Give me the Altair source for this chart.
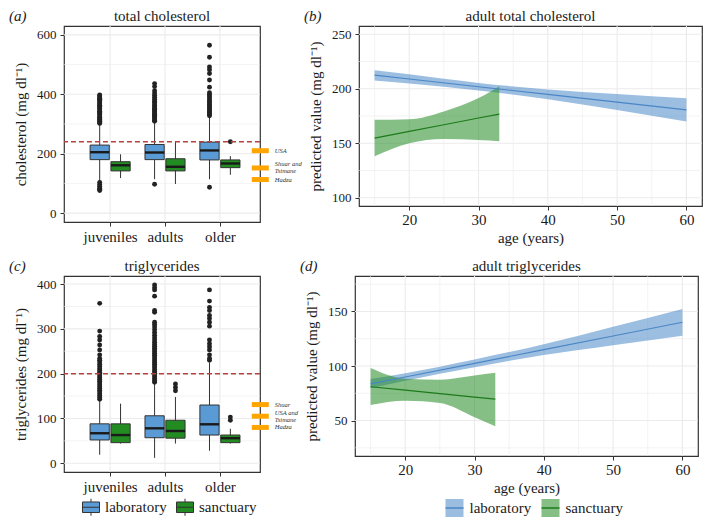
import json
import altair as alt
import pandas as pd

SERIF = "Liberation Serif"

groups = ["juveniles", "adults", "older"]
sites = ["laboratory", "sanctuary"]

# ---------- (a) total cholesterol: box summaries (lo whisker, q1, median, q3, hi whisker)
chol_lab_lo = [109, 114, 114]
chol_lab_q1 = [180, 180, 179]
chol_lab_med = [205, 204, 211]
chol_lab_q3 = [229, 231, 239]
chol_lab_hi = [298, 307, 326]
chol_san_lo = [118, 98, 129]
chol_san_q1 = [142, 142, 153]
chol_san_med = [161, 156, 167]
chol_san_q3 = [173, 183, 179]
chol_san_hi = [198, 240, 192]

chol_out_lab_juv = [76, 80, 84, 90, 96, 103, 302, 305, 309, 312, 316, 320, 323, 327, 331, 335, 339, 343,
                    347, 351, 355, 359, 363, 367, 371, 375, 379, 383, 387, 391, 395, 398]
chol_out_lab_adu = [97, 309, 313, 317, 321, 325, 329, 333, 337, 341, 345, 349, 353, 358, 362, 367, 372,
                    377, 383, 390, 397, 404, 412, 426, 436]
chol_out_lab_old = [87, 328, 332, 337, 341, 346, 351, 356, 361, 366, 371, 377, 382, 388, 394, 399, 405,
                    424, 448, 470, 483, 492, 525, 565]
chol_out_san_old = [240]

chol_limit = 240
chol_pop_labels = ["USA", "Shuar and\nTsimane", "Hadza"]
chol_pop_values = [210, 152, 113]

# ---------- (c) triglycerides
trig_lab_lo = [19, 12, 28]
trig_lab_q1 = [52, 57, 63]
trig_lab_med = [67, 78, 87]
trig_lab_q3 = [88, 106, 130]
trig_lab_hi = [140, 179, 225]
trig_san_lo = [44, 44, 44]
trig_san_q1 = [46, 56, 46]
trig_san_med = [63, 72, 56]
trig_san_q3 = [88, 96, 63]
trig_san_hi = [133, 148, 77]

trig_out_lab_juv = [143, 147, 151, 155, 159, 163, 167, 171, 175, 179, 183, 187, 191, 195, 199, 203, 207,
                    211, 216, 221, 226, 230, 234, 242, 253, 264, 275, 283, 295, 357]
trig_out_lab_adu = [181, 185, 189, 193, 197, 201, 205, 209, 213, 217, 221, 225, 229, 233, 237, 241, 245,
                    249, 253, 257, 261, 265, 270, 275, 280, 286, 292, 298, 304, 310, 315, 337, 341, 373,
                    387, 392, 398]
trig_out_lab_old = [230, 234, 242, 253, 260, 267, 275, 306, 315, 323, 330, 341, 348, 362, 387]
trig_out_san_adu = [162, 169, 177]
trig_out_san_old = [96, 103]

trig_limit = 200
trig_pop_labels = ["Shuar", "USA and\nTsimane", "Hadza"]
trig_pop_values = [131, 105, 80]

# ---------- (b) adult total cholesterol predictions
chol_lab_age = [15, 20, 30, 40, 50, 60]
chol_lab_fit = [212.4, 208.9, 201.8, 194.8, 187.7, 180.7]
chol_lab_low = [207.6, 204.7, 198.4, 190.4, 180.4, 170.0]
chol_lab_upp = [217.0, 213.2, 205.3, 199.4, 195.2, 191.2]
chol_san_age = [15, 20, 25, 30, 33]
chol_san_fit = [154.8, 160.9, 167.0, 173.2, 176.8]
chol_san_low = [138.0, 150.0, 154.0, 153.0, 151.9]
chol_san_upp = [171.5, 172.0, 179.2, 191.4, 202.1]

# ---------- (d) adult triglyceride predictions
trig_lab_age = [15, 20, 30, 40, 50, 60]
trig_lab_fit = [83.6, 89.9, 102.4, 115.0, 127.5, 140.1]
trig_lab_low = [79.6, 86.4, 98.9, 110.0, 119.0, 127.8]
trig_lab_upp = [88.0, 93.4, 106.0, 120.0, 136.0, 152.3]
trig_san_age = [15, 20, 25, 30, 33]
trig_san_fit = [81.0, 77.8, 74.7, 71.5, 69.6]
trig_san_low = [64.2, 68.1, 66.0, 53.0, 44.8]
trig_san_upp = [98.2, 88.4, 87.5, 91.3, 93.7]

BOX_FILL = ["#5B9BD5", "#228B22"]
BAND_FILL = ["#4A89C8", "#228B22"]
LINE_COL = ["#4A86C5", "#1C7A1C"]
GRID = "#EBEBEB"
INK = "#1a1a1a"

W_BOX, H_BOX = 196, 196
W_LINE, H_LINE = 343, 180
DODGE, HALF = 0.19, 0.175
X_BOX_DOM = [0.16, 3.73]


def box_tables(stats, outliers):
    rows = []
    for j, s in enumerate(sites):
        lo, q1, med, q3, hi = stats[s]
        for i, g in enumerate(groups):
            xc = i + 1 + (2 * j - 1) * DODGE
            rows.append(dict(group=g, site=s, xc=xc, xl=xc - HALF, xr=xc + HALF,
                             lo=lo[i], q1=q1[i], med=med[i], q3=q3[i], hi=hi[i]))
    orow = []
    for (g, s), vals in outliers:
        xc = groups.index(g) + 1 + (2 * sites.index(s) - 1) * DODGE
        for v in vals:
            orow.append(dict(xc=xc, v=v))
    return pd.DataFrame(rows), pd.DataFrame(orow)


def axis_common(**kw):
    base = dict(grid=False, domain=False, ticks=True, tickSize=4, tickColor="#333333",
                labelColor=INK, labelFont=SERIF, titleFont=SERIF, titleFontWeight="normal",
                titleColor=INK, titleFontSize=15)
    base.update(kw)
    return alt.Axis(**base)


def headings(tag, title, width):
    lab = alt.Chart(pd.DataFrame({"t": [tag]})).mark_text(
        font=SERIF, fontSize=15, fontStyle="italic", align="left", baseline="alphabetic", color=INK
    ).encode(x=alt.value(-55), y=alt.value(-5), text="t:N")
    ttl = alt.Chart(pd.DataFrame({"t": [title]})).mark_text(
        font=SERIF, fontSize=15, align="center", baseline="alphabetic", color=INK
    ).encode(x=alt.value(width / 2), y=alt.value(-5), text="t:N")
    return [lab, ttl]


def box_panel(tag, title, ytitle, box, out, ydom, ymaj, ymin, limit, pop_vals, pop_labels, show_legend):
    xs = alt.Scale(domain=X_BOX_DOM, nice=False, zero=False)
    ys = alt.Scale(domain=ydom, nice=False, zero=False)
    xax = axis_common(values=[1, 2, 3], title=None, labelFontSize=15, labelPadding=3,
                      labelExpr=json.dumps([""] + groups) + "[datum.value]")
    yax = axis_common(values=ymaj, title=ytitle, labelFontSize=13, labelPadding=4, titlePadding=8)

    gmaj = alt.Chart(pd.DataFrame({"v": ymaj})).mark_rule(color=GRID, strokeWidth=1.1).encode(
        y=alt.Y("v:Q", scale=ys, axis=yax))
    gmin = alt.Chart(pd.DataFrame({"v": ymin})).mark_rule(color=GRID, strokeWidth=0.6).encode(
        y=alt.Y("v:Q", scale=ys, axis=yax))
    gver = alt.Chart(pd.DataFrame({"g": [1, 2, 3]})).mark_rule(color=GRID, strokeWidth=1.1).encode(
        x=alt.X("g:Q", scale=xs, axis=xax))
    whisk = alt.Chart(box).mark_rule(color="#333333", strokeWidth=1).encode(
        x=alt.X("xc:Q", scale=xs, axis=xax), y=alt.Y("lo:Q", scale=ys, axis=yax), y2="hi:Q")
    if show_legend:
        leg = alt.Legend(orient="none", legendX=18, legendY=H_BOX + 26, direction="horizontal",
                         columns=2, title=None, labelFont=SERIF, labelFontSize=15, labelColor=INK,
                         symbolType="M-1,-0.62H1V0.62H-1Z M-1,0H1 M0,-0.62V-1 M0,0.62V1",
                         symbolSize=289, symbolStrokeColor="#333333", symbolStrokeWidth=1,
                         labelOffset=5, columnPadding=7)
    else:
        leg = None
    boxes = alt.Chart(box).mark_bar(stroke="#333333", strokeWidth=1, opacity=1).encode(
        x=alt.X("xl:Q", scale=xs, axis=xax), x2="xr:Q",
        y=alt.Y("q1:Q", scale=ys, axis=yax), y2="q3:Q",
        fill=alt.Fill("site:N", scale=alt.Scale(domain=sites, range=BOX_FILL), legend=leg))
    med = alt.Chart(box).mark_rule(color=INK, strokeWidth=2.4).encode(
        x=alt.X("xl:Q", scale=xs, axis=xax), x2="xr:Q", y=alt.Y("med:Q", scale=ys, axis=yax))
    pts = alt.Chart(out).mark_circle(size=24, color="#222222", opacity=1).encode(
        x=alt.X("xc:Q", scale=xs, axis=xax), y=alt.Y("v:Q", scale=ys, axis=yax))
    lim = alt.Chart(pd.DataFrame({"v": [limit]})).mark_rule(
        color="#B5423F", strokeWidth=1.5, strokeDash=[5, 3]).encode(y=alt.Y("v:Q", scale=ys, axis=yax))
    pop = pd.DataFrame({"v": pop_vals, "label": pop_labels})
    pop["lines"] = [len(s.split("\n")) for s in pop_labels]
    pbar = alt.Chart(pop).mark_rule(color="#FFA500", strokeWidth=5).encode(
        x=alt.XDatum(3.58, scale=xs, axis=xax), x2=alt.X2Datum(3.89),
        y=alt.Y("v:Q", scale=ys, axis=yax))
    txt_kw = dict(font=SERIF, fontSize=6.5, fontStyle="italic", align="left", baseline="middle",
                  lineBreak="\n", lineHeight=7, color="#333333")
    ptxt1 = alt.Chart(pop).transform_filter("datum.lines == 1").mark_text(**txt_kw).encode(
        x=alt.XDatum(4.0, scale=xs, axis=xax), y=alt.Y("v:Q", scale=ys, axis=yax), text="label:N")
    ptxt2 = alt.Chart(pop).transform_filter("datum.lines > 1").mark_text(dy=-3.5, **txt_kw).encode(
        x=alt.XDatum(4.0, scale=xs, axis=xax), y=alt.Y("v:Q", scale=ys, axis=yax), text="label:N")
    return alt.layer(gmaj, gmin, gver, whisk, boxes, med, pts, lim, pbar, ptxt1, ptxt2,
                     *headings(tag, title, W_BOX)).properties(width=W_BOX, height=H_BOX)


def line_panel(tag, title, ydom, ymaj, ymin, lab, san, show_legend):
    xs = alt.Scale(domain=[12.75, 62.25], nice=False, zero=False)
    ys = alt.Scale(domain=ydom, nice=False, zero=False)
    xax = axis_common(values=[20, 30, 40, 50, 60], title="age (years)", labelFontSize=15,
                      labelPadding=2, titlePadding=3)
    yax = axis_common(values=ymaj, title="predicted value (mg dl\u207b\u00b9)", labelFontSize=13,
                      labelPadding=4, titlePadding=8)
    rows = []
    for s, d in zip(sites, [lab, san]):
        for a, f, lo, hi in zip(*d):
            rows.append(dict(site=s, grp=s, age=a, fit=f, lo=lo, hi=hi))
    df = pd.DataFrame(rows)
    xmaj = [20, 30, 40, 50, 60]
    xmin = [15, 25, 35, 45, 55]
    g1 = alt.Chart(pd.DataFrame({"v": ymaj})).mark_rule(color=GRID, strokeWidth=1.1).encode(
        y=alt.Y("v:Q", scale=ys, axis=yax))
    g2 = alt.Chart(pd.DataFrame({"v": ymin})).mark_rule(color=GRID, strokeWidth=0.6).encode(
        y=alt.Y("v:Q", scale=ys, axis=yax))
    g3 = alt.Chart(pd.DataFrame({"v": xmaj})).mark_rule(color=GRID, strokeWidth=1.1).encode(
        x=alt.X("v:Q", scale=xs, axis=xax))
    g4 = alt.Chart(pd.DataFrame({"v": xmin})).mark_rule(color=GRID, strokeWidth=0.6).encode(
        x=alt.X("v:Q", scale=xs, axis=xax))
    lx = W_LINE / 2 - 82
    ly = H_LINE + 42
    if show_legend:
        fleg = alt.Legend(orient="none", legendX=lx, legendY=ly, direction="horizontal", columns=2,
                          title=None, labelFont=SERIF, labelFontSize=15, labelColor=INK,
                          symbolType="square", symbolSize=324, symbolStrokeWidth=1.5,
                          symbolStrokeColor="transparent", symbolOpacity=0.55,
                          labelOffset=5, columnPadding=7)
        sleg = alt.Legend(orient="none", legendX=lx, legendY=ly, direction="horizontal", columns=2,
                          title=None, labelFont=SERIF, labelFontSize=15, labelOpacity=0,
                          symbolType="stroke", symbolSize=324, symbolStrokeWidth=1.5,
                          labelOffset=5, columnPadding=7)
    else:
        fleg = None
        sleg = None
    band = alt.Chart(df).mark_area(opacity=0.55, interpolate="monotone").encode(
        x=alt.X("age:Q", scale=xs, axis=xax), y=alt.Y("lo:Q", scale=ys, axis=yax), y2="hi:Q",
        fill=alt.Fill("site:N", scale=alt.Scale(range=BAND_FILL), legend=fleg),
        detail="site:N")
    line = alt.Chart(df).mark_line(strokeWidth=1.2).encode(
        x=alt.X("age:Q", scale=xs, axis=xax), y=alt.Y("fit:Q", scale=ys, axis=yax),
        stroke=alt.Stroke("grp:N", scale=alt.Scale(range=LINE_COL), legend=sleg))
    return alt.layer(g1, g2, g3, g4, band, line, *headings(tag, title, W_LINE)).properties(
        width=W_LINE, height=H_LINE)


chol_box, chol_outl = box_tables(
    {"laboratory": (chol_lab_lo, chol_lab_q1, chol_lab_med, chol_lab_q3, chol_lab_hi),
     "sanctuary": (chol_san_lo, chol_san_q1, chol_san_med, chol_san_q3, chol_san_hi)},
    [(("juveniles", "laboratory"), chol_out_lab_juv), (("adults", "laboratory"), chol_out_lab_adu),
     (("older", "laboratory"), chol_out_lab_old), (("older", "sanctuary"), chol_out_san_old)])
trig_box, trig_outl = box_tables(
    {"laboratory": (trig_lab_lo, trig_lab_q1, trig_lab_med, trig_lab_q3, trig_lab_hi),
     "sanctuary": (trig_san_lo, trig_san_q1, trig_san_med, trig_san_q3, trig_san_hi)},
    [(("juveniles", "laboratory"), trig_out_lab_juv), (("adults", "laboratory"), trig_out_lab_adu),
     (("older", "laboratory"), trig_out_lab_old), (("adults", "sanctuary"), trig_out_san_adu),
     (("older", "sanctuary"), trig_out_san_old)])

pa = box_panel("(a)", "total cholesterol", "cholesterol (mg dl\u207b\u00b9)", chol_box, chol_outl,
               [-30, 630], [0, 200, 400, 600], [100, 300, 500], chol_limit,
               chol_pop_values, chol_pop_labels, False)
pc = box_panel("(c)", "triglycerides", "triglycerides (mg dl\u207b\u00b9)", trig_box, trig_outl,
               [-19.5, 418], [0, 100, 200, 300, 400], [50, 150, 250, 350], trig_limit,
               trig_pop_values, trig_pop_labels, True)
pb = line_panel("(b)", "adult total cholesterol", [92.5, 257.5], [100, 150, 200, 250], [125, 175, 225],
                (chol_lab_age, chol_lab_fit, chol_lab_low, chol_lab_upp),
                (chol_san_age, chol_san_fit, chol_san_low, chol_san_upp), False)
pd_ = line_panel("(d)", "adult triglycerides", [17.5, 182.5], [50, 100, 150], [25, 75, 125, 175],
                 (trig_lab_age, trig_lab_fit, trig_lab_low, trig_lab_upp),
                 (trig_san_age, trig_san_fit, trig_san_low, trig_san_upp), True)

row1 = alt.hconcat(pa, pb, spacing=0).resolve_scale(fill="independent", stroke="independent")
row2 = alt.hconcat(pc, pd_, spacing=0).resolve_scale(fill="independent", stroke="independent")
chart = alt.vconcat(row1, row2, spacing=12).resolve_scale(
    fill="independent", stroke="independent"
).properties(padding=0, background="white").configure_view(
    stroke="#333333", strokeWidth=1.2
).configure_axis(labelFont=SERIF, titleFont=SERIF).configure_legend(labelFont=SERIF)

chart.save("out.html", embed_options={"renderer": "svg", "actions": False})
